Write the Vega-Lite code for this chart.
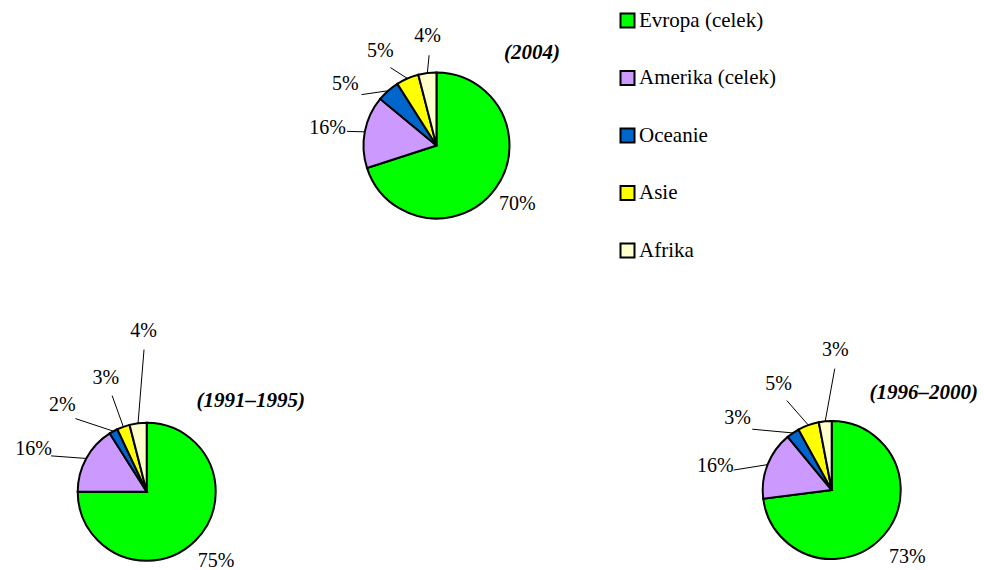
{
  "$schema": "https://vega.github.io/schema/vega-lite/v6.json",
  "padding": 0,
  "background": "white",
  "spacing": 0,
  "bounds": "flush",
  "config": {"view": {"stroke": null}, "font": "Liberation Serif", "legend": {"labelFont": "Liberation Serif"}},
  "datasets": {
    "shares": [
      {"pie": "2004", "region": "Evropa (celek)", "share": 70},
      {"pie": "2004", "region": "Amerika (celek)", "share": 16},
      {"pie": "2004", "region": "Oceanie", "share": 5},
      {"pie": "2004", "region": "Asie", "share": 5},
      {"pie": "2004", "region": "Afrika", "share": 4},
      {"pie": "1991–1995", "region": "Evropa (celek)", "share": 75},
      {"pie": "1991–1995", "region": "Amerika (celek)", "share": 16},
      {"pie": "1991–1995", "region": "Oceanie", "share": 2},
      {"pie": "1991–1995", "region": "Asie", "share": 3},
      {"pie": "1991–1995", "region": "Afrika", "share": 4},
      {"pie": "1996–2000", "region": "Evropa (celek)", "share": 73},
      {"pie": "1996–2000", "region": "Amerika (celek)", "share": 16},
      {"pie": "1996–2000", "region": "Oceanie", "share": 3},
      {"pie": "1996–2000", "region": "Asie", "share": 5},
      {"pie": "1996–2000", "region": "Afrika", "share": 3}
    ]
  },
  "resolve": {"legend": {"color": "independent"}},
  "vconcat": [
    {
      "width": 560,
      "height": 300,
      "data": {"name": "shares"},
      "transform": [
        {"filter": "datum.pie === '2004'"},
        {"window": [{"op": "sum", "field": "share", "as": "cum"}, {"op": "row_number", "as": "rn"}], "frame": [null, 0]},
        {"joinaggregate": [{"op": "count", "as": "n"}]},
        {"calculate": "datum.n - datum.rn", "as": "k"},
        {"calculate": "datum.cum - datum.share", "as": "start"},
        {"calculate": "(datum.cum - datum.share / 2) / 100", "as": "mid"},
        {"calculate": "datum.k == 0 ? datum.mid + 0.007 : min(datum.mid, 0.985 - 0.07 * datum.k)", "as": "lf"},
        {"calculate": "datum.share >= 50 ? 1.37 : 1.51", "as": "lr"},
        {"calculate": "datum.lr * sin(2 * PI * datum.lf)", "as": "lx"},
        {"calculate": "datum.lr * cos(2 * PI * datum.lf)", "as": "ly"},
        {"calculate": "(datum.lr - 0.27) * sin(2 * PI * datum.lf)", "as": "sx"},
        {"calculate": "(datum.lr - 0.27) * cos(2 * PI * datum.lf)", "as": "sy"},
        {"calculate": "sin(2 * PI * datum.mid)", "as": "ex"},
        {"calculate": "cos(2 * PI * datum.mid)", "as": "ey"},
        {"calculate": "datum.share + '%'", "as": "label"}
      ],
      "title": {"text": "(2004)", "anchor": "end", "frame": "group", "orient": "top", "offset": -74, "baseline": "middle", "font": "Liberation Serif", "fontSize": 21, "fontStyle": "italic", "fontWeight": "bold", "color": "black"},
      "layer": [
        {
          "mark": {"type": "arc", "outerRadius": 73, "stroke": "black", "strokeWidth": 2},
          "encoding": {
            "theta": {"field": "start", "type": "quantitative", "scale": {"domain": [0, 100]}},
            "theta2": {"field": "cum"},
            "color": {
              "field": "region", "type": "nominal",
              "scale": {"domain": ["Evropa (celek)", "Amerika (celek)", "Oceanie", "Asie", "Afrika"], "range": ["#00FF00", "#CC99FF", "#0066CC", "#FFFF00", "#FFFFCC"]},
              "legend": {"title": null, "orient": "right", "offset": 47, "padding": 10, "symbolType": "square", "symbolSize": 196, "symbolStrokeColor": "black", "symbolStrokeWidth": 2, "symbolOpacity": 1, "labelFont": "Liberation Serif", "labelFontSize": 21, "labelColor": "black", "labelOffset": 1, "rowPadding": 34.5}
            },
            "x": {"datum": 0, "type": "quantitative", "scale": {"domain": [-5.979, 1.692], "nice": false, "zero": false}, "axis": null},
            "y": {"datum": 0, "type": "quantitative", "scale": {"domain": [-2.116, 1.993], "nice": false, "zero": false}, "axis": null}
          }
        },
        {
          "transform": [{"filter": "datum.share < 50"}],
          "mark": {"type": "rule", "color": "black", "strokeWidth": 1},
          "encoding": {
            "x": {"field": "sx", "type": "quantitative", "scale": {"domain": [-5.979, 1.692], "nice": false, "zero": false}, "axis": null},
            "y": {"field": "sy", "type": "quantitative", "scale": {"domain": [-2.116, 1.993], "nice": false, "zero": false}, "axis": null},
            "x2": {"field": "ex"},
            "y2": {"field": "ey"}
          }
        },
        {
          "mark": {"type": "text", "font": "Liberation Serif", "fontSize": 20, "align": "center", "baseline": "middle", "color": "black"},
          "encoding": {
            "x": {"field": "lx", "type": "quantitative", "scale": {"domain": [-5.979, 1.692], "nice": false, "zero": false}, "axis": null},
            "y": {"field": "ly", "type": "quantitative", "scale": {"domain": [-2.116, 1.993], "nice": false, "zero": false}, "axis": null},
            "text": {"field": "label"}
          }
        }
      ]
    },
    {
      "spacing": 0,
      "bounds": "flush",
      "hconcat": [
        {
          "width": 305,
          "height": 270,
          "data": {"name": "shares"},
          "transform": [
            {"filter": "datum.pie === '1991–1995'"},
            {"window": [{"op": "sum", "field": "share", "as": "cum"}, {"op": "row_number", "as": "rn"}], "frame": [null, 0]},
            {"joinaggregate": [{"op": "count", "as": "n"}]},
            {"calculate": "datum.n - datum.rn", "as": "k"},
            {"calculate": "datum.cum - datum.share", "as": "start"},
            {"calculate": "(datum.cum - datum.share / 2) / 100", "as": "mid"},
            {"calculate": "datum.k == 0 ? datum.mid + 0.017 : min(datum.mid, 1.017 - 0.07 * datum.k)", "as": "lf"},
            {"calculate": "datum.share >= 50 ? 1.42 : (datum.k == 0 ? 2.33 : 1.75)", "as": "lr"},
            {"calculate": "datum.lr * sin(2 * PI * datum.lf)", "as": "lx"},
            {"calculate": "datum.lr * cos(2 * PI * datum.lf)", "as": "ly"},
            {"calculate": "(datum.lr - 0.27) * sin(2 * PI * datum.lf)", "as": "sx"},
            {"calculate": "(datum.lr - 0.27) * cos(2 * PI * datum.lf)", "as": "sy"},
            {"calculate": "sin(2 * PI * datum.mid)", "as": "ex"},
            {"calculate": "cos(2 * PI * datum.mid)", "as": "ey"},
            {"calculate": "datum.share + '%'", "as": "label"}
          ],
          "title": {"text": "(1991–1995)", "anchor": "end", "frame": "group", "orient": "top", "offset": -122, "baseline": "middle", "font": "Liberation Serif", "fontSize": 21, "fontStyle": "italic", "fontWeight": "bold", "color": "black"},
          "layer": [
            {
              "mark": {"type": "arc", "outerRadius": 69, "stroke": "black", "strokeWidth": 2},
              "encoding": {
                "theta": {"field": "start", "type": "quantitative", "scale": {"domain": [0, 100]}},
                "theta2": {"field": "cum"},
                "color": {"field": "region", "type": "nominal", "legend": null},
                "x": {"datum": 0, "type": "quantitative", "scale": {"domain": [-2.126, 2.294], "nice": false, "zero": false}, "axis": null},
                "y": {"datum": 0, "type": "quantitative", "scale": {"domain": [-1.135, 2.778], "nice": false, "zero": false}, "axis": null}
              }
            },
            {
              "transform": [{"filter": "datum.share < 50"}],
              "mark": {"type": "rule", "color": "black", "strokeWidth": 1},
              "encoding": {
                "x": {"field": "sx", "type": "quantitative", "scale": {"domain": [-2.126, 2.294], "nice": false, "zero": false}, "axis": null},
                "y": {"field": "sy", "type": "quantitative", "scale": {"domain": [-1.135, 2.778], "nice": false, "zero": false}, "axis": null},
                "x2": {"field": "ex"},
                "y2": {"field": "ey"}
              }
            },
            {
              "mark": {"type": "text", "font": "Liberation Serif", "fontSize": 20, "align": "center", "baseline": "middle", "color": "black"},
              "encoding": {
                "x": {"field": "lx", "type": "quantitative", "scale": {"domain": [-2.126, 2.294], "nice": false, "zero": false}, "axis": null},
                "y": {"field": "ly", "type": "quantitative", "scale": {"domain": [-1.135, 2.778], "nice": false, "zero": false}, "axis": null},
                "text": {"field": "label"}
              }
            }
          ]
        },
        {
          "width": 673,
          "height": 270,
          "data": {"name": "shares"},
          "transform": [
            {"filter": "datum.pie === '1996–2000'"},
            {"window": [{"op": "sum", "field": "share", "as": "cum"}, {"op": "row_number", "as": "rn"}], "frame": [null, 0]},
            {"joinaggregate": [{"op": "count", "as": "n"}]},
            {"calculate": "datum.n - datum.rn", "as": "k"},
            {"calculate": "datum.cum - datum.share", "as": "start"},
            {"calculate": "(datum.cum - datum.share / 2) / 100", "as": "mid"},
            {"calculate": "datum.k == 0 ? datum.mid + 0.019 : min(datum.mid, 0.998 - 0.072 * datum.k)", "as": "lf"},
            {"calculate": "datum.share >= 50 ? 1.46 : (datum.k == 0 ? 2.03 : 1.72)", "as": "lr"},
            {"calculate": "datum.lr * sin(2 * PI * datum.lf)", "as": "lx"},
            {"calculate": "datum.lr * cos(2 * PI * datum.lf)", "as": "ly"},
            {"calculate": "(datum.lr - 0.27) * sin(2 * PI * datum.lf)", "as": "sx"},
            {"calculate": "(datum.lr - 0.27) * cos(2 * PI * datum.lf)", "as": "sy"},
            {"calculate": "sin(2 * PI * datum.mid)", "as": "ex"},
            {"calculate": "cos(2 * PI * datum.mid)", "as": "ey"},
            {"calculate": "datum.share + '%'", "as": "label"}
          ],
          "title": {"text": "(1996–2000)", "anchor": "end", "frame": "group", "orient": "top", "offset": -114, "baseline": "middle", "font": "Liberation Serif", "fontSize": 21, "fontStyle": "italic", "fontWeight": "bold", "color": "black"},
          "layer": [
            {
              "mark": {"type": "arc", "outerRadius": 69, "stroke": "black", "strokeWidth": 2},
              "encoding": {
                "theta": {"field": "start", "type": "quantitative", "scale": {"domain": [0, 100]}},
                "theta2": {"field": "cum"},
                "color": {"field": "region", "type": "nominal", "legend": null},
                "x": {"datum": 0, "type": "quantitative", "scale": {"domain": [-7.633, 2.12], "nice": false, "zero": false}, "axis": null},
                "y": {"datum": 0, "type": "quantitative", "scale": {"domain": [-1.159, 2.754], "nice": false, "zero": false}, "axis": null}
              }
            },
            {
              "transform": [{"filter": "datum.share < 50"}],
              "mark": {"type": "rule", "color": "black", "strokeWidth": 1},
              "encoding": {
                "x": {"field": "sx", "type": "quantitative", "scale": {"domain": [-7.633, 2.12], "nice": false, "zero": false}, "axis": null},
                "y": {"field": "sy", "type": "quantitative", "scale": {"domain": [-1.159, 2.754], "nice": false, "zero": false}, "axis": null},
                "x2": {"field": "ex"},
                "y2": {"field": "ey"}
              }
            },
            {
              "mark": {"type": "text", "font": "Liberation Serif", "fontSize": 20, "align": "center", "baseline": "middle", "color": "black"},
              "encoding": {
                "x": {"field": "lx", "type": "quantitative", "scale": {"domain": [-7.633, 2.12], "nice": false, "zero": false}, "axis": null},
                "y": {"field": "ly", "type": "quantitative", "scale": {"domain": [-1.159, 2.754], "nice": false, "zero": false}, "axis": null},
                "text": {"field": "label"}
              }
            }
          ]
        }
      ]
    }
  ]
}
